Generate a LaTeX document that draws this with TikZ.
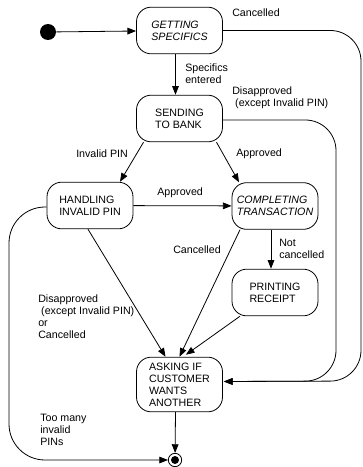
\documentclass[tikz,border=0pt]{standalone}
\usepackage{fontspec}
\setmainfont{Liberation Sans}
\usetikzlibrary{positioning, arrows.meta}

\begin{document}
\begin{tikzpicture}[x=0.75pt, y=-0.75pt, font=\fontsize{8}{9}\selectfont,
	state/.style={draw, rounded corners=11pt, align=left, line width=0.6pt,
		minimum width=64.5pt, minimum height=35pt, inner sep=2pt},
	lbl/.style={anchor=west, align=left, inner sep=0pt},
	tr/.style={line width=0.6pt, -{Triangle[length=6.5pt,width=5pt]}}]
	\useasboundingbox (0,0) rectangle (363,467);
	% states
	\node[circle, fill=black, minimum size=12pt, inner sep=0pt] (init) at (48,32) {};
	\node[state] (gs) at (179.5,30.5) {\itshape GETTING\\\itshape SPECIFICS};
	\node[state] (sb) at (179.5,118.5) {SENDING\\TO BANK};
	\node[state] (hp) at (90,205.5) {HANDLING\\INVALID PIN};
	\node[state] (ct) at (275,206) {\itshape COMPLETING\\\itshape TRANSACTION};
	\node[state] (pr) at (275,292.5) {PRINTING\\RECEIPT};
	\node[state, minimum height=41pt] (ask) at (179.5,384.5) {ASKING IF\\CUSTOMER\\WANTS\\ANOTHER};
	\node[circle, draw, line width=0.6pt, minimum size=10pt, inner sep=0pt] (final) at (175,460) {};
	\node[circle, fill=black, minimum size=6pt, inner sep=0pt] (finaldot) at (final) {};
	% transitions
	\draw[tr] (init) -- (gs);
	\draw[tr] ([shift={(-4,0)}]gs.south) -- ([shift={(-4,0)}]sb.north);
	\draw[tr, rounded corners=23pt] (gs.east) -| (361,381) -- ([shift={(1,-3)}]ask.east);
	\draw[tr, rounded corners=23pt] ([shift={(0,1.5)}]sb.east) -| (336,381) -- ([shift={(1,-3)}]ask.east);
	\draw[tr] ([shift={(-36,0)}]sb.south) -- ([shift={(30,0)}]hp.north);
	\draw[tr] ([shift={(37,0)}]sb.south) -- ([shift={(-36,0)}]ct.north);
	\draw[tr] (hp) -- (ct);
	\draw[tr] ([shift={(-35,0)}]ct.south) -- ([shift={(0,0)}]ask.north);
	\draw[tr] ([shift={(-4,0)}]ct.south) -- ([shift={(-4,0)}]pr.north);
	\draw[tr] ([shift={(-35,0)}]pr.south) -- ([shift={(-37,-2)}]ask.north east);
	\draw[tr] ([shift={(-2,0)}]hp.south) -- ([shift={(-14,0)}]ask.north);
	\draw[tr] ([shift={(-4,0)}]ask.south) -- (final);
	\draw[tr, rounded corners=27pt] ([shift={(0,1.5)}]hp.west) -| (9,460) -- (final);
	% labels
	\node[lbl] (l_cancel1) at (232,13) {Cancelled};
	\node[lbl] (l_entered) at (185,73.5) {Specifics\\entered};
	\node[lbl] (l_disappr1) at (232,98) {Disapproved\\\ (except Invalid PIN)};
	\node[lbl] (l_invalid) at (76,154) {Invalid PIN};
	\node[lbl] (l_appr1) at (236,154) {Approved};
	\node[lbl] (l_appr2) at (157,193) {Approved};
	\node[lbl] (l_cancel2) at (173,250) {Cancelled};
	\node[lbl] (l_notcancel) at (279,248.5) {Not\\cancelled};
	\node[lbl] (l_disappr2) at (38,316.5) {Disapproved\\\ (except Invalid PIN)\\or\\Cancelled};
	\node[lbl] (l_toomany) at (40,430) {Too many\\invalid\\PINs};
\end{tikzpicture}
\end{document}
